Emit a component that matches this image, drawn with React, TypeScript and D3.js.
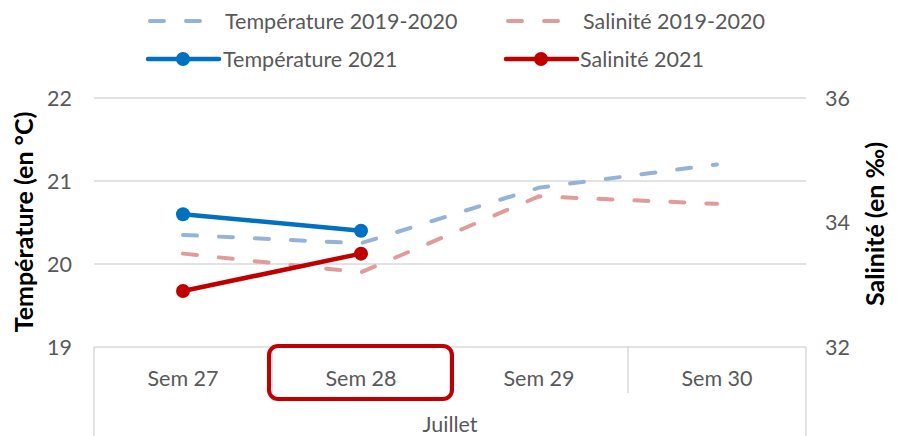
import React from 'react';
import * as d3 from 'd3';

const categories = ['Sem 27', 'Sem 28', 'Sem 29', 'Sem 30'];
const groupLabel = 'Juillet';
const highlighted = 'Sem 28';

const temp1920 = [20.35, 20.25, 20.92, 21.2];
const sal1920 = [33.5, 33.2, 34.42, 34.3];
const temp2021: (number | null)[] = [20.6, 20.4, null, null];
const sal2021: (number | null)[] = [32.9, 33.5, null, null];

const tempTicks = [19, 20, 21, 22];
const salTicks = [32, 34, 36];

const W = 900;
const H = 436;
const left = 94;
const right = 806;
const top = 98;
const bottom = 347;

const FONT = 'Lato, "Open Sans", sans-serif';
const FS = 21.5;
const TXT = '#595959';
const GRID = '#d9d9d9';

const colors = {
  t1920: '#95b3d7',
  s1920: '#e09b9b',
  t21: '#0070c0',
  s21: '#c00000',
};

const App = () => {
  const x = d3.scaleBand<string>().domain(categories).range([left, right]);
  const yT = d3.scaleLinear().domain([19, 22]).range([bottom, top]);
  const yS = d3.scaleLinear().domain([32, 36]).range([bottom, top]);
  const cx = (c: string) => (x(c) ?? 0) + x.bandwidth() / 2;

  const mkLine = (y: d3.ScaleLinear<number, number>) =>
    d3.line<number | null>()
      .defined(d => d != null)
      .x((_, i) => cx(categories[i]))
      .y(d => y(d as number));

  const dash = '14 22';

  const legend = [
    { label: 'Température 2019-2020', color: colors.t1920, dashed: true, x: 148, y: 21, tx: 225 },
    { label: 'Salinité 2019-2020', color: colors.s1920, dashed: true, x: 506, y: 21, tx: 583 },
    { label: 'Température 2021', color: colors.t21, dashed: false, x: 148, y: 59, tx: 223 },
    { label: 'Salinité 2021', color: colors.s21, dashed: false, x: 506, y: 59, tx: 580 },
  ];

  const bounds = [left, ...categories.slice(1).map(c => x(c) ?? 0), right];
  const hx = x(highlighted) ?? 0;

  return (
    <svg width={W} height={H} style={{ position: 'absolute', left: 0, top: 0 }} fontFamily={FONT}>
      {/* grid */}
      {tempTicks.map(t => (
        <line key={t} x1={left} x2={right} y1={yT(t)} y2={yT(t)} stroke={GRID} strokeWidth={1.5} />
      ))}
      {/* category axis */}
      {bounds.map((b, i) => (
        <line key={i} x1={b} x2={b} y1={bottom} y2={i === 0 || i === bounds.length - 1 ? H : 393}
          stroke={GRID} strokeWidth={1.5} />
      ))}
      {categories.map(c => (
        <text key={c} x={cx(c)} y={378} dy="0.35em" textAnchor="middle" fontSize={FS} fill={TXT}>{c}</text>
      ))}
      <text x={(left + right) / 2} y={424} dy="0.35em" textAnchor="middle" fontSize={FS} fill={TXT}>{groupLabel}</text>
      <rect x={hx - 3} y={346} width={x.bandwidth() + 5} height={53} rx={9}
        fill="none" stroke={colors.s21} strokeWidth={4} />

      {/* y ticks */}
      {tempTicks.map(t => (
        <text key={t} x={72} y={yT(t)} dy="0.35em" textAnchor="end" fontSize={FS} fill={TXT}>{t}</text>
      ))}
      {salTicks.map(t => (
        <text key={t} x={825} y={yS(t)} dy="0.35em" textAnchor="start" fontSize={FS} fill={TXT}>{t}</text>
      ))}
      <text transform={`translate(24,222) rotate(-90)`} textAnchor="middle" dy="0.35em"
        fontSize={25} fontWeight="bold" fill="#000">Température (en °C)</text>
      <text transform={`translate(875,224) rotate(-90)`} textAnchor="middle" dy="0.35em"
        fontSize={25} fontWeight="bold" fill="#000">Salinité (en ‰)</text>

      {/* series */}
      <path d={mkLine(yT)(temp1920) ?? ''} fill="none" stroke={colors.t1920} strokeWidth={4}
        strokeDasharray={dash} strokeLinecap="round" />
      <path d={mkLine(yS)(sal1920) ?? ''} fill="none" stroke={colors.s1920} strokeWidth={4}
        strokeDasharray={dash} strokeLinecap="round" />
      <path d={mkLine(yT)(temp2021) ?? ''} fill="none" stroke={colors.t21} strokeWidth={4.5} />
      <path d={mkLine(yS)(sal2021) ?? ''} fill="none" stroke={colors.s21} strokeWidth={4.5} />
      {temp2021.map((v, i) => v != null && (
        <circle key={'t' + i} cx={cx(categories[i])} cy={yT(v)} r={7} fill={colors.t21} />
      ))}
      {sal2021.map((v, i) => v != null && (
        <circle key={'s' + i} cx={cx(categories[i])} cy={yS(v)} r={7} fill={colors.s21} />
      ))}

      {/* legend */}
      {legend.map(l => (
        <g key={l.label}>
          {l.dashed ? (
            <line x1={l.x + 2} x2={l.x + 56} y1={l.y} y2={l.y} stroke={l.color} strokeWidth={4}
              strokeDasharray={dash} strokeLinecap="round" />
          ) : (
            <>
              <line x1={l.x} x2={l.x + 71} y1={l.y} y2={l.y} stroke={l.color} strokeWidth={4.5} strokeLinecap="round" />
              <circle cx={l.x + 35} cy={l.y} r={7} fill={l.color} />
            </>
          )}
          <text x={l.tx} y={l.y} dy="0.35em" fontSize={FS} fill={TXT}>{l.label}</text>
        </g>
      ))}
    </svg>
  );
};

export default App;
